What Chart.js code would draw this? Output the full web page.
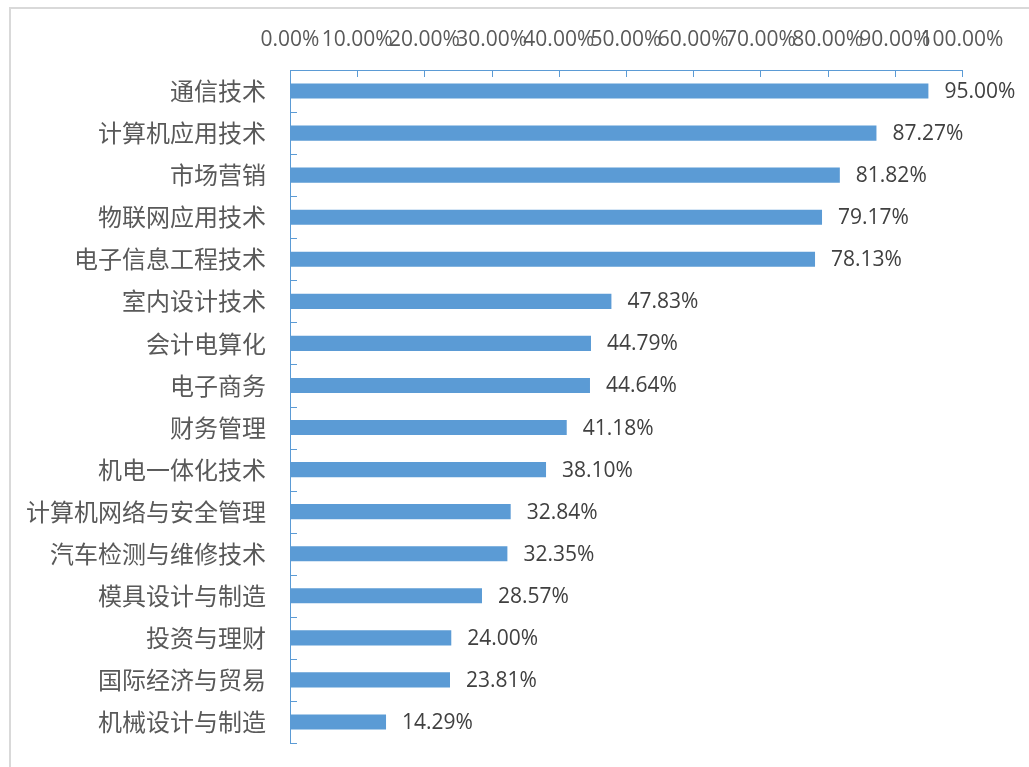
<!DOCTYPE html>
<html>
<head>
<meta charset="utf-8">
<script src="https://cdn.jsdelivr.net/npm/chart.js@4"></script>
<style>
    html, body { margin: 0; padding: 0; background: #fff; overflow: hidden; }
    #frame {
        position: absolute; left: 9px; top: 7px; width: 1100px; height: 800px;
        border: 2px solid #d9d9d9; box-sizing: border-box;
    }
    #wrap { position: absolute; left: 0; top: 0; width: 1029px; height: 767px; }
</style>
</head>
<body>
<div id="frame"></div>
<div id="wrap"><canvas id="barChart" width="1029" height="767"></canvas></div>
<script>
// Catégories et valeurs (%)
const categories = [
    "通信技术", "计算机应用技术", "市场营销", "物联网应用技术", "电子信息工程技术",
    "室内设计技术", "会计电算化", "电子商务", "财务管理", "机电一体化技术",
    "计算机网络与安全管理", "汽车检测与维修技术", "模具设计与制造", "投资与理财",
    "国际经济与贸易", "机械设计与制造"
];
const rates = [
    95.00, 87.27, 81.82, 79.17, 78.13,
    47.83, 44.79, 44.64, 41.18, 38.10,
    32.84, 32.35, 28.57, 24.00,
    23.81, 14.29
];
const xTicks = [0, 10, 20, 30, 40, 50, 60, 70, 80, 90, 100];

const axisColor = "#5b9bd5";

// Petits traits de graduation vers l'intérieur + étiquettes de valeurs
const extrasPlugin = {
    id: "extras",
    afterDatasetsDraw(chart) {
        const ctx = chart.ctx;
        const x = chart.scales.x;
        const y = chart.scales.y;
        ctx.save();
        ctx.strokeStyle = axisColor;
        ctx.lineWidth = 1;
        xTicks.forEach(v => {
            const px = Math.round(x.getPixelForValue(v)) + 0.5;
            ctx.beginPath();
            ctx.moveTo(px, y.top);
            ctx.lineTo(px, y.top + 7);
            ctx.stroke();
        });
        for (let i = 0; i <= categories.length; i++) {
            const py = Math.round(y.getPixelForValue(i - 0.5)) + 0.5;
            ctx.beginPath();
            ctx.moveTo(x.left, py);
            ctx.lineTo(x.left + 7, py);
            ctx.stroke();
        }
        // Étiquettes de données
        const meta = chart.getDatasetMeta(0);
        ctx.fillStyle = "#404040";
        ctx.font = "21px 'Open Sans'";
        ctx.textAlign = "left";
        ctx.textBaseline = "middle";
        meta.data.forEach((bar, i) => {
            ctx.fillText(rates[i].toFixed(2) + "%", bar.x + 16, bar.y + 1);
        });
        ctx.restore();
    }
};

const ctx = document.getElementById("barChart").getContext("2d");
new Chart(ctx, {
    type: "bar",
    data: {
        labels: categories,
        datasets: [{
            data: rates,
            backgroundColor: "#5b9bd5",
            barPercentage: 0.36,
            categoryPercentage: 1,
        }],
    },
    options: {
        indexAxis: "y",
        responsive: false,
        animation: false,
        layout: { padding: { left: 0, top: 0, right: 67, bottom: 24 } },
        plugins: {
            legend: { display: false },
            tooltip: { enabled: false },
        },
        scales: {
            x: {
                position: "top",
                min: 0,
                max: 100,
                afterBuildTicks: scale => { scale.ticks = xTicks.map(v => ({ value: v })); },
                afterFit: scale => {
                    scale.height = 70;
                    scale.paddingLeft = 0;
                    scale.paddingRight = 0;
                },
                grid: { display: false, drawTicks: false },
                border: { display: true, color: axisColor, width: 1 },
                ticks: {
                    padding: 17,
                    color: "#595959",
                    font: { family: "'Open Sans'", size: 21 },
                    maxRotation: 0,
                    autoSkip: false,
                    callback: v => v.toFixed(2) + "%",
                },
            },
            y: {
                afterFit: scale => {
                    scale.width = 290;
                    scale.paddingTop = 0;
                    scale.paddingBottom = 0;
                },
                grid: { display: false, drawTicks: false },
                border: { display: true, color: axisColor, width: 1 },
                ticks: {
                    padding: 24,
                    color: "#595959",
                    font: { family: "'Noto Sans CJK SC'", size: 24 },
                    autoSkip: false,
                },
            },
        },
    },
    plugins: [extrasPlugin],
});
</script>
</body>
</html>
